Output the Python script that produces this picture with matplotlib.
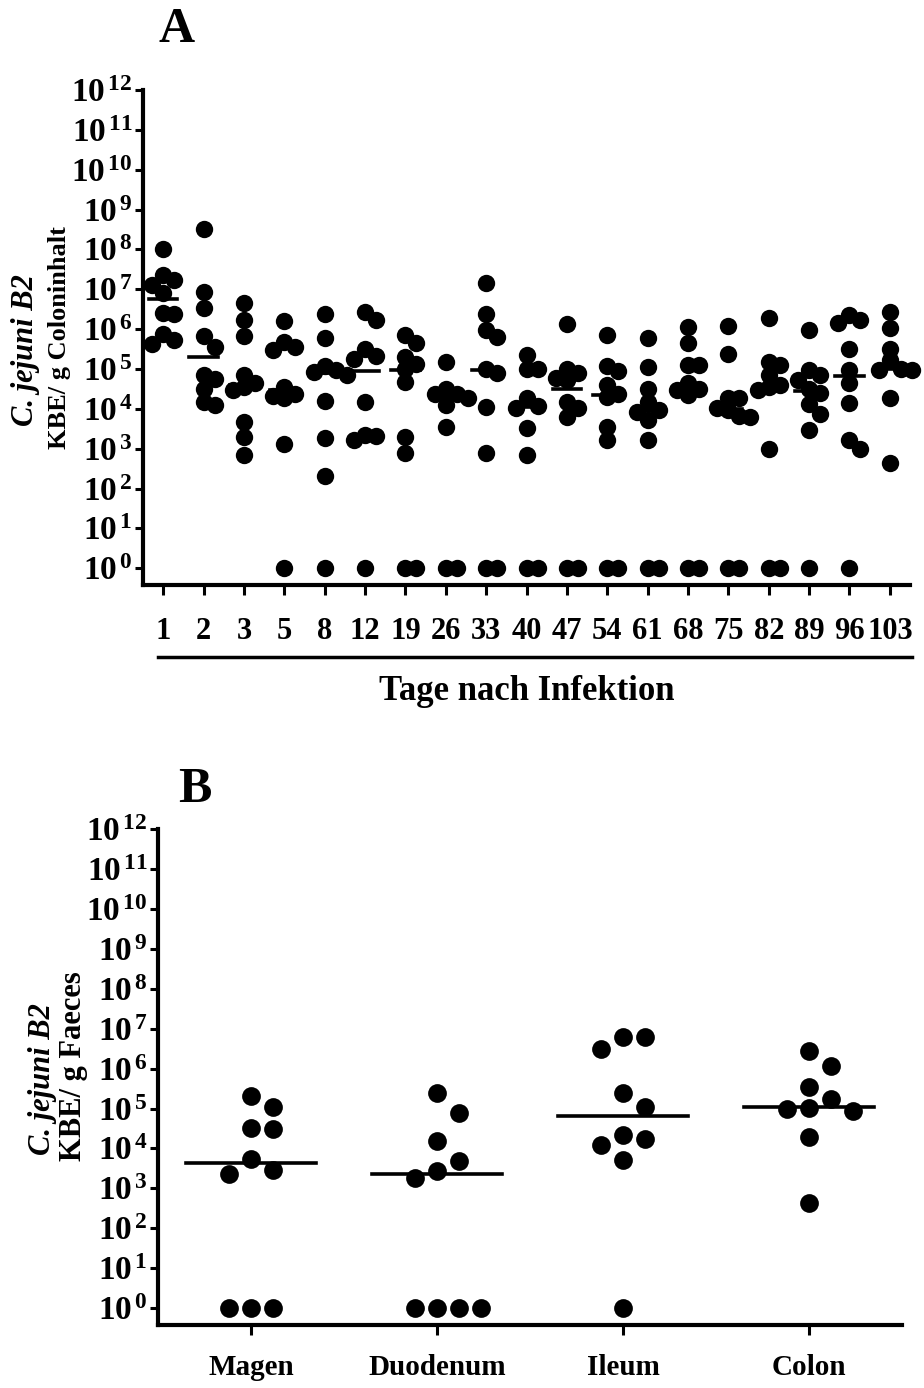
import numpy as np
import matplotlib
matplotlib.use("Agg")
import matplotlib.pyplot as plt
from matplotlib.lines import Line2D
from matplotlib.ticker import FixedLocator, FuncFormatter, NullLocator

plt.rcParams["font.family"] = ["Liberation Serif", "DejaVu Serif"]
plt.rcParams["font.weight"] = "bold"
plt.rcParams["mathtext.fontset"] = "custom"
plt.rcParams["mathtext.rm"] = "Liberation Serif:bold"
plt.rcParams["mathtext.bf"] = "Liberation Serif:bold"
plt.rcParams["mathtext.it"] = "Liberation Serif:bold:italic"

# A: C. jejuni B2 in colon content, log10 CFU/g, one list per day p.i.
days = ["1", "2", "3", "5", "8", "12", "19", "26", "33", "40",
        "47", "54", "61", "68", "75", "82", "89", "96", "103"]
log_cfu_colon = [
    [8.0, 7.36, 7.23, 7.10, 6.9, 6.41, 6.37, 5.89, 5.72, 5.62],
    [8.51, 6.92, 6.52, 5.83, 5.56, 4.85, 4.76, 4.51, 4.18, 4.09],
    [6.66, 6.23, 5.82, 4.85, 4.65, 4.55, 4.47, 3.67, 3.30, 2.84],
    [6.21, 5.67, 5.56, 5.47, 4.55, 4.38, 4.32, 4.26, 3.13, 0],
    [6.37, 5.78, 5.07, 4.97, 4.93, 4.85, 4.19, 3.28, 2.31, 0],
    [6.44, 6.24, 5.49, 5.32, 5.24, 4.18, 3.34, 3.31, 3.23, 0],
    [5.85, 5.64, 5.31, 5.12, 5.01, 4.68, 3.30, 2.88, 0, 0],
    [5.18, 4.51, 4.38, 4.38, 4.26, 4.09, 3.55, 0, 0],
    [7.15, 6.39, 5.99, 5.81, 5.01, 4.90, 4.05, 2.88, 0, 0],
    [5.36, 4.99, 4.99, 4.26, 4.07, 4.01, 3.51, 2.85, 0, 0],
    [6.13, 5.01, 4.90, 4.78, 4.72, 4.18, 4.01, 3.80, 0, 0],
    [5.85, 5.07, 4.95, 4.59, 4.38, 4.30, 3.55, 3.23, 0, 0],
    [5.79, 5.05, 4.51, 4.18, 3.98, 3.92, 3.73, 3.23, 0, 0],
    [6.06, 5.64, 5.10, 5.10, 4.64, 4.51, 4.47, 4.34, 0, 0],
    [6.08, 5.37, 4.26, 4.26, 4.01, 3.98, 3.82, 3.80, 0, 0],
    [6.27, 5.18, 5.10, 4.85, 4.59, 4.55, 4.47, 3.0, 0, 0],
    [5.99, 4.97, 4.85, 4.72, 4.51, 4.40, 4.13, 3.88, 3.46, 0],
    [6.35, 6.24, 6.16, 5.49, 4.97, 4.64, 4.15, 3.23, 3.0, 0],
    [6.44, 6.04, 5.51, 5.22, 5.01, 4.97, 4.97, 4.28, 2.63],
]
median_colon = [6.75, 5.29, 4.6, 4.47, 4.89, 4.95, 4.97, 4.26, 4.97, 4.04,
                4.51, 4.34, 3.95, 4.58, 4.0, 4.57, 4.46, 4.82, 5.01]

# B: gut sections, log10 CFU/g
sites = ["Magen", "Duodenum", "Ileum", "Colon"]
log_cfu_sites = [
    [5.31, 5.03, 4.52, 4.48, 3.73, 3.46, 3.35, 0, 0, 0],
    [5.39, 4.89, 4.18, 3.68, 3.43, 3.27, 0, 0, 0, 0],
    [6.79, 6.79, 6.5, 5.39, 5.04, 4.33, 4.23, 4.08, 3.70, 0],
    [6.43, 6.06, 5.53, 5.23, 5.02, 4.99, 4.95, 4.29, 2.64],
]
median_sites = [3.63, 3.37, 4.81, 5.03]

W, H = 924, 1388
YMIN = -0.42


def px_box(left, top, right, bottom):
    return [left / W, 1 - bottom / H, (right - left) / W, (bottom - top) / H]


def swarm(y_px, step, min_dist, max_slot):
    # greedy beeswarm: slots 0, +1, -1, +2, -2 ... ; if every slot is crowded
    # the one with the largest clearance wins
    slots = [0]
    for k in range(1, max_slot + 1):
        slots += [k, -k]
    placed = []
    offs = np.zeros(len(y_px))
    for i in np.argsort(-y_px, kind="stable"):
        best, best_gap = 0, -1.0
        for k in slots:
            x = k * step
            gap = min([np.hypot(x - px, y_px[i] - py) for px, py in placed] or [1e9])
            if gap >= min_dist:
                best = x
                break
            if gap > best_gap:
                best, best_gap = x, gap
        placed.append((best, y_px[i]))
        offs[i] = best
    return offs


def dot_panel(ax, box, labels, groups, medians, step, min_dist, max_slot, ms):
    n = len(labels)
    cat_px = (box[2] - box[0]) / n
    dec_px = (box[3] - box[1]) / (12 - YMIN)
    for i, vals in enumerate(groups):
        vals = np.array(vals, dtype=float)
        offs = swarm(vals * dec_px, step, min_dist, max_slot) / cat_px
        ax.scatter(i + offs, 10 ** vals, s=ms ** 2, c="black", lw=0,
                   zorder=3, clip_on=False)
        ax.plot([i - 0.35, i + 0.35], [10 ** medians[i]] * 2, color="black",
                lw=2.6, zorder=2)
    ax.set_yscale("log")
    ax.set_ylim(10 ** YMIN, 1e12)
    ax.set_xlim(-0.5, n - 0.5)
    ax.yaxis.set_major_locator(FixedLocator(10.0 ** np.arange(13)))
    ax.yaxis.set_minor_locator(NullLocator())
    ax.yaxis.set_major_formatter(
        FuncFormatter(lambda v, p: r"$\mathbf{10}^{\,\mathbf{%d}}$" % round(np.log10(v))))
    ax.set_xticks(range(n))
    ax.set_xticklabels(labels)
    for s in ("top", "right"):
        ax.spines[s].set_visible(False)
    for s in ("left", "bottom"):
        ax.spines[s].set_linewidth(3)
    ax.tick_params(axis="y", length=6, width=2.2, pad=1.5, labelsize=24)


fig = plt.figure(figsize=(W / 100, H / 100), dpi=100)

boxA = (143, 90, 910, 585)
axA = fig.add_axes(px_box(*boxA))
dot_panel(axA, boxA, days, log_cfu_colon, median_colon, 11, 11, 2, 12.5)
axA.tick_params(axis="x", length=7, width=2.2, pad=16, labelsize=22)

boxB = (158, 829, 902, 1325)
axB = fig.add_axes(px_box(*boxB))
dot_panel(axB, boxB, sites, log_cfu_sites, median_sites, 22, 20, 2, 13.5)
axB.tick_params(axis="x", length=7, width=2.2, pad=14, labelsize=21)

# panel letters
fig.text(177 / W, 1 - 30 / H, "A", fontsize=36, ha="center", va="center")
fig.text(195 / W, 1 - 790 / H, "B", fontsize=36, ha="center", va="center")

# y axis titles
fig.text(26 / W, 1 - 350 / H, "C. jejuni B2", rotation=90, style="italic",
         fontsize=22, ha="center", va="center")
fig.text(60 / W, 1 - 338 / H, "KBE/ g Coloninhalt", rotation=90,
         fontsize=19, ha="center", va="center")
fig.text(43 / W, 1 - 1079 / H, "C. jejuni B2", rotation=90, style="italic",
         fontsize=22, ha="center", va="center")
fig.text(74 / W, 1 - 1066 / H, "KBE/ g Faeces", rotation=90,
         fontsize=22, ha="center", va="center")

# bar under the day labels and x title
fig.add_artist(Line2D([158 / W, 912 / W], [1 - 657 / H] * 2, lw=2.5,
                      color="black", transform=fig.transFigure))
fig.text(527 / W, 1 - 692 / H, "Tage nach Infektion", fontsize=25,
         ha="center", va="center")

fig.savefig("out.png", dpi=100)
